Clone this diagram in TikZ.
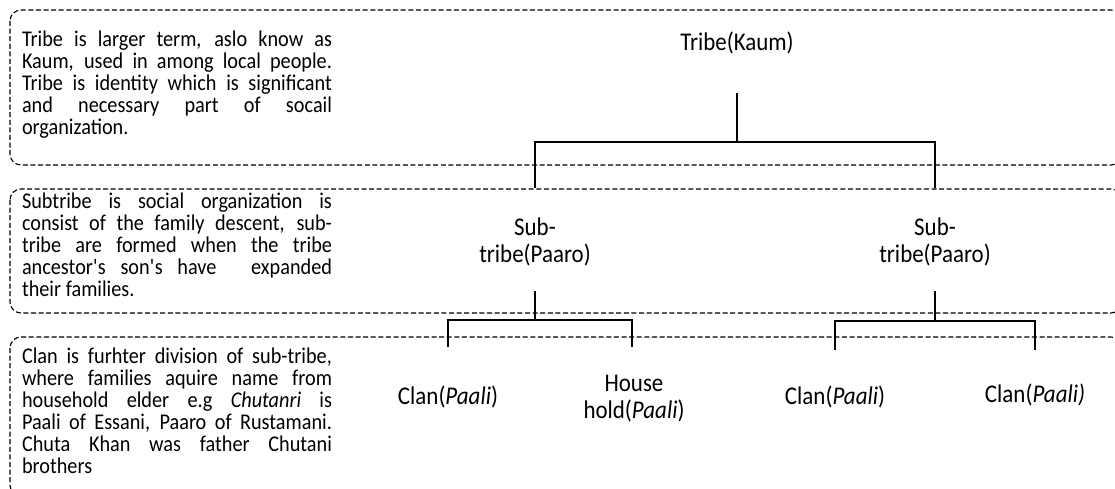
\documentclass[tikz,border=0pt]{standalone}
\usepackage{fontspec}
\setmainfont{Carlito}[FakeStretch=0.9]
\hyphenpenalty=10000
\begin{document}
\begin{tikzpicture}[x=1pt,y=-1pt,
  zone/.style={draw=black,line width=1.1pt,dash pattern=on 5pt off 2.6pt,rounded corners=11pt},
  note/.style={text width=310pt,align=justify,inner sep=0pt,font={\fontsize{22.5}{22}\selectfont}},
  label/.style={align=center,inner sep=1pt,font={\fontsize{25.5}{27}\selectfont}},
  tree/.style={draw=black,line width=2.2pt}]
\useasboundingbox (0,0) rectangle (1115,489);
\clip (0,0) rectangle (1115,489);
% zones
\draw[zone] (10,10) rectangle (1122,165);
\draw[zone] (10,189) rectangle (1122,313);
\draw[zone] (10,337) rectangle (1122,496);
% notes
\node[note] (n1) at (177,85) {Tribe is larger term, aslo know as\linebreak Kaum, used in among local people.\linebreak Tribe is identity which is significant\linebreak and necessary part of socail\linebreak organization.};
\node[note] (n2) at (177,245) {Subtribe is social organization is\linebreak consist of the family descent, sub-\linebreak tribe are formed when the tribe\linebreak ancestor\textquotesingle s son\textquotesingle s have\hspace{20pt} expanded\linebreak their families.};
\node[note] (n3) at (177,411) {Clan is furhter division of sub-tribe,\linebreak where families aquire name from\linebreak household elder e.g \textit{Chutanri} is\linebreak Paali of Essani, Paaro of Rustamani.\linebreak Chuta Khan was father Chutani\linebreak brothers};
% labels
\node[label] (tribe) at (737,43) {Tribe(Kaum)};
\node[label] (subL) at (535,242) {Sub-\\tribe(Paaro)};
\node[label] (subR) at (935,242) {Sub-\\tribe(Paaro)};
\node[label] (c1) at (448,397) {Clan(\textit{Paali})};
\node[label] (hh) at (634,399) {House\\hold(\textit{Paali})};
\node[label] (c2) at (835,397) {Clan(\textit{Paali})};
\node[label] (c3) at (1035,395) {Clan(\textit{Paali)}};
% junction coordinates
\coordinate (tTop) at (737,93);
\coordinate (tJ) at (737,142);
\coordinate (sLtop) at (535,188);
\coordinate (sRtop) at (935,188);
\coordinate (sLbot) at (535,291);
\coordinate (sLJ) at (535,320);
\coordinate (sRbot) at (935,291);
\coordinate (sRJ) at (935,321);
\coordinate (c1top) at (448,347);
\coordinate (hhtop) at (632,347);
\coordinate (c2top) at (835,350);
\coordinate (c3top) at (1035,350);
% tree connectors
\draw[tree] (tTop) -- (tJ);
\draw[tree] (sLtop) -- (sLtop |- tJ) -- (sRtop |- tJ) -- (sRtop);
\draw[tree] (sLbot) -- (sLJ);
\draw[tree] (c1top) -- (c1top |- sLJ) -- (hhtop |- sLJ) -- (hhtop);
\draw[tree] (sRbot) -- (sRJ);
\draw[tree] (c2top) -- (c2top |- sRJ) -- (c3top |- sRJ) -- (c3top);
\end{tikzpicture}
\end{document}
